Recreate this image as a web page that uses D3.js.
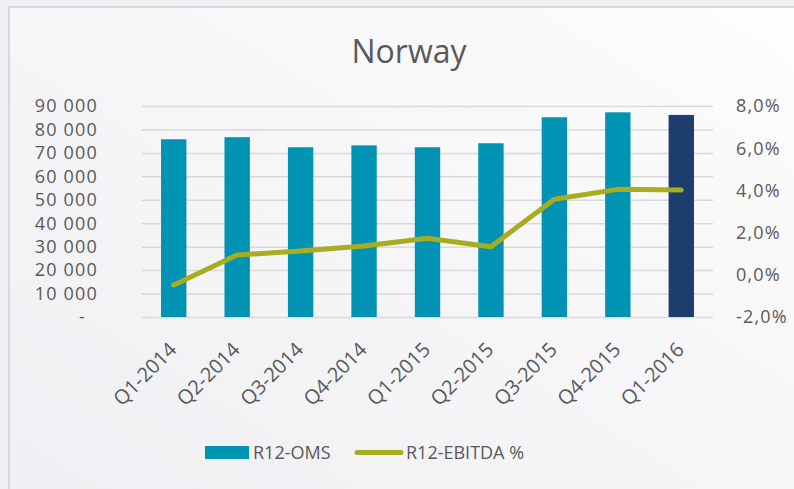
<!DOCTYPE html>
<html>
<head>
<meta charset="utf-8">
<script src="https://cdn.jsdelivr.net/npm/d3@7"></script>
<style>
  body { margin: 0; background: #f0f0f4; }
  svg { display: block; font-family: "Open Sans", sans-serif; }
</style>
</head>
<body>
<svg id="chart" width="794" height="489"></svg>
<script>
// data
var quarters = ["Q1-2014", "Q2-2014", "Q3-2014", "Q4-2014", "Q1-2015", "Q2-2015", "Q3-2015", "Q4-2015", "Q1-2016"];
var oms = [75800, 76700, 72400, 73200, 72400, 74100, 85200, 87300, 86200];
var ebitda = [-0.48, 0.94, 1.13, 1.36, 1.73, 1.33, 3.58, 4.05, 4.02];
var leftTicks = [0, 10000, 20000, 30000, 40000, 50000, 60000, 70000, 80000, 90000];
var rightTicks = [-2, 0, 2, 4, 6, 8];

var COLOR = {
  BAR: "#0093b3",
  BAR_LAST: "#1c3d6e",
  LINE: "#a8ad1f",
  GRID: "#d9d9d9",
  TEXT: "#595959"
};

var svg = d3.select("#chart");

// background + frame
var defs = svg.append("defs");
var grad = defs.append("linearGradient").attr("id", "bg")
  .attr("x1", "0%").attr("y1", "100%").attr("x2", "100%").attr("y2", "0%");
grad.append("stop").attr("offset", "0%").attr("stop-color", "#efeff3");
grad.append("stop").attr("offset", "100%").attr("stop-color", "#fdfdfd");

svg.append("rect").attr("width", 794).attr("height", 489).attr("fill", "#f0f0f4");
svg.append("rect").attr("x", 9).attr("y", 7).attr("width", 800).attr("height", 500)
  .attr("fill", "url(#bg)").attr("stroke", "#d8d8d8").attr("stroke-width", 2);

// scales
var plot = { left: 142, right: 713, top: 106, bottom: 317 };
var x = d3.scaleBand().domain(quarters).range([plot.left, plot.right]).paddingInner(0.6).paddingOuter(0.3);
var y = d3.scaleLinear().domain([0, 90000]).range([plot.bottom, plot.top]);
var y2 = d3.scaleLinear().domain([-2, 8]).range([plot.bottom, plot.top]);

// title
svg.append("text").attr("x", 409).attr("y", 63).attr("text-anchor", "middle")
  .attr("font-size", 32).attr("fill", COLOR.TEXT).text("Norway");

// gridlines
svg.append("g").selectAll("line").data(leftTicks).enter().append("line")
  .attr("x1", plot.left).attr("x2", plot.right)
  .attr("y1", function (d) { return y(d) + 0.5; })
  .attr("y2", function (d) { return y(d) + 0.5; })
  .attr("stroke", COLOR.GRID).attr("stroke-width", 1.5);

// left axis labels
var fmt = function (d) { return d === 0 ? "-" : d3.format(",")(d).replace(/,/g, " "); };
svg.append("g").selectAll("text").data(leftTicks).enter().append("text")
  .attr("x", function (d) { return d === 0 ? 86 : 98; })
  .attr("y", function (d) { return y(d); })
  .attr("dy", "0.35em").attr("text-anchor", "end")
  .attr("font-size", 18).attr("letter-spacing", 1.2).attr("fill", COLOR.TEXT)
  .text(fmt);

// right axis labels
svg.append("g").selectAll("text").data(rightTicks).enter().append("text")
  .attr("x", 736)
  .attr("y", function (d) { return y2(d); })
  .attr("dy", "0.35em").attr("text-anchor", "start")
  .attr("font-size", 18).attr("letter-spacing", 1.2).attr("fill", COLOR.TEXT)
  .text(function (d) { return d3.format(".1f")(d).replace(".", ",").replace("−", "-") + "%"; });

// bars
svg.append("g").selectAll("rect").data(oms).enter().append("rect")
  .attr("x", function (d, i) { return x(quarters[i]); })
  .attr("width", x.bandwidth())
  .attr("y", function (d) { return y(d); })
  .attr("height", function (d) { return y(0) - y(d); })
  .attr("fill", function (d, i) { return i === oms.length - 1 ? COLOR.BAR_LAST : COLOR.BAR; });

// line
var line = d3.line()
  .x(function (d, i) { return x(quarters[i]) + x.bandwidth() / 2; })
  .y(function (d) { return y2(d); });
svg.append("path").datum(ebitda).attr("d", line)
  .attr("fill", "none").attr("stroke", COLOR.LINE).attr("stroke-width", 5)
  .attr("stroke-linecap", "round").attr("stroke-linejoin", "round");

// x labels
svg.append("g").selectAll("text").data(quarters).enter().append("text")
  .attr("transform", function (d) {
    return "translate(" + (x(d) + x.bandwidth() / 2 + 4) + "," + 351 + ") rotate(-45)";
  })
  .attr("text-anchor", "end").attr("font-size", 20).attr("fill", COLOR.TEXT)
  .text(function (d) { return d; });

// legend
var legend = svg.append("g");
legend.append("rect").attr("x", 205).attr("y", 446).attr("width", 44).attr("height", 13).attr("fill", COLOR.BAR);
legend.append("text").attr("x", 253).attr("y", 459).attr("font-size", 18).attr("fill", COLOR.TEXT).text("R12-OMS");
legend.append("line").attr("x1", 357).attr("x2", 401).attr("y1", 452.5).attr("y2", 452.5)
  .attr("stroke", COLOR.LINE).attr("stroke-width", 5).attr("stroke-linecap", "round");
legend.append("text").attr("x", 406).attr("y", 459).attr("font-size", 18).attr("fill", COLOR.TEXT).text("R12-EBITDA %");
</script>
</body>
</html>
